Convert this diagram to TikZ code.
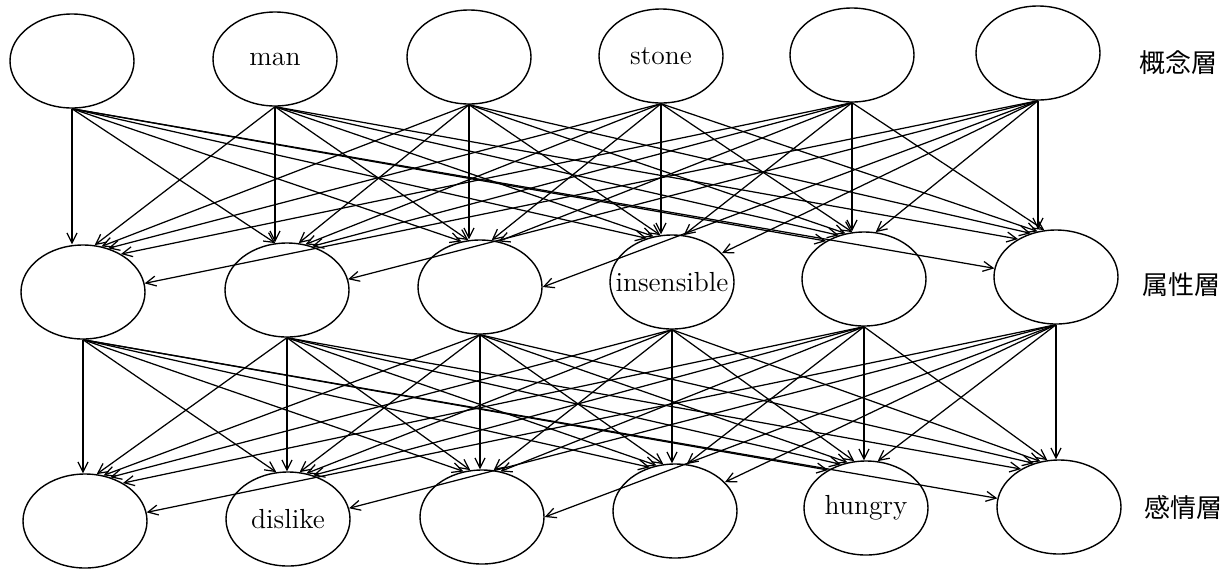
\documentclass[tikz,border=0pt]{standalone}
\usepackage{fontspec}
\newfontfamily\cjk{Noto Sans CJK JP}
\usetikzlibrary{shapes.geometric,arrows.meta}
\tikzset{
  cell/.style={draw, ellipse, line width=0.7pt, minimum width=62pt, minimum height=47pt, inner sep=0pt},
  word/.style={font=\fontsize{13.8}{16}\selectfont},
  layername/.style={font=\cjk\fontsize{13}{15}\selectfont},
  arr/.style={-{Straight Barb[length=5pt,width=5pt]}, line width=0.62pt},
}
\newcommand\fanlayer[2]{%
  \foreach \i in {1,...,6}{%
    \foreach \j in {1,...,6}{%
      \pgfmathtruncatemacro\d{\j-\i}%
      \ifnum\d=0
        \draw[arr] (#1\i.south) -- (#1\i.south |- #2\j.north);%
      \else
        \pgfmathtruncatemacro\f{{0,14,22,30,45,82}[abs(\d)]}%
        \pgfmathtruncatemacro\ang{90+sign(\d)*\f}%
        \ifnum\i=6 \ifnum\j>1 \ifnum\j<5
          \pgfmathtruncatemacro\ang{{0,0,10,0,30}[\j]}%
        \fi\fi\fi
        \draw[arr] (#1\i.south) -- (#2\j.\ang);%
      \fi
    }%
  }%
}
\begin{document}
\begin{tikzpicture}[x=0.5pt,y=-0.5pt]
\useasboundingbox (0,0) rectangle (1232,569);
% top layer
\node[cell] (T1) at (72,61) {};
\node[cell, label={[word]center:man}] (T2) at (275,59) {};
\node[cell] (T3) at (469,57) {};
\node[cell, label={[word]center:stone}] (T4) at (661,56) {};
\node[cell] (T5) at (852,55) {};
\node[cell] (T6) at (1038,53) {};
% middle layer
\node[cell] (M1) at (83,292) {};
\node[cell] (M2) at (287,290) {};
\node[cell] (M3) at (480,287) {};
\node[cell, label={[word]center:insensible}] (M4) at (672,282) {};
\node[cell] (M5) at (864,279) {};
\node[cell] (M6) at (1056,277) {};
% bottom layer
\node[cell] (B1) at (85,521) {};
\node[cell, label={[word]center:dislike}] (B2) at (288,519) {};
\node[cell] (B3) at (482,517) {};
\node[cell] (B4) at (675,511) {};
\node[cell, label={[word]center:hungry}] (B5) at (866,508) {};
\node[cell] (B6) at (1059,507) {};
% layer names
\node[layername] (L1) at (1178,63) {概念層};
\node[layername] (L2) at (1181,285) {属性層};
\node[layername] (L3) at (1183,508) {感情層};
% connectors
\fanlayer{T}{M}
\fanlayer{M}{B}
\end{tikzpicture}
\end{document}
